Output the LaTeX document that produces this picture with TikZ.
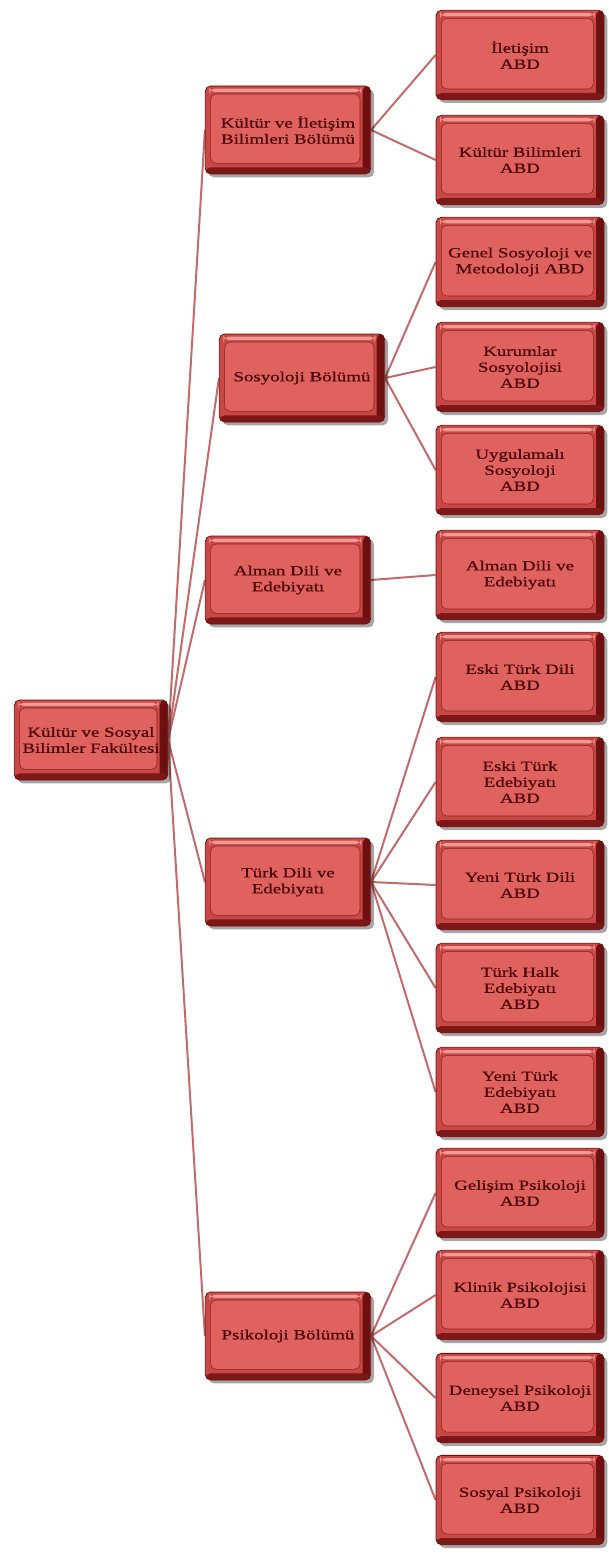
\documentclass[tikz,border=0pt]{standalone}
\usepackage{fontspec}
\newfontfamily\bxfont[FakeStretch=1.35,FakeBold=0.6]{Liberation Serif}
\usetikzlibrary{shadows,backgrounds}
\definecolor{bxdark}{HTML}{6E1010}
\definecolor{bxmid}{HTML}{C94846}
\definecolor{bxface}{HTML}{E0625F}
\definecolor{bxlight}{HTML}{F09A96}
\definecolor{bxtext}{HTML}{4A0505}
\definecolor{lnk}{HTML}{C46A6A}
\tikzset{
  bx/.style={rectangle, rounded corners=4pt, minimum width=126pt, minimum height=67pt,
    inner sep=2pt, align=center, text=bxtext,
    font=\bxfont\fontsize{10.5}{12}\selectfont,
    fill=bxmid, draw=bxdark, line width=0.6pt,
    drop shadow={shadow xshift=2.5pt, shadow yshift=-2.5pt, opacity=0.35, fill=black},
    path picture={
      \fill[bxdark] ([shift={(-6pt,0pt)}]path picture bounding box.north east)
        rectangle (path picture bounding box.south east);
      \fill[bxdark!85!bxmid] ([shift={(0pt,5pt)}]path picture bounding box.south west)
        rectangle (path picture bounding box.south east);
      \fill[bxlight] ([shift={(3pt,-2pt)}]path picture bounding box.north west)
        rectangle ([shift={(-7pt,-4.5pt)}]path picture bounding box.north east);
      \fill[bxface, draw=bxdark!70!bxmid, line width=0.4pt]
        ([shift={(4pt,-6pt)}]path picture bounding box.north west)
        rectangle ([shift={(-8pt,8pt)}]path picture bounding box.south east);
    }},
  rootbx/.style={bx, minimum width=115pt, minimum height=60pt},
  lvl1/.style={bx, minimum width=124pt, minimum height=66pt},
  link/.style={draw=lnk, line width=1.5pt}
}
\begin{document}
\begin{tikzpicture}[x=0.75pt,y=-0.75pt]
\useasboundingbox (0,0) rectangle (608,1555);
\node[rootbx] (root) at (91,740) {Kültür ve Sosyal\\Bilimler Fakültesi};
\node[lvl1] (k1) at (288,130) {Kültür ve İletişim\\Bilimleri Bölümü};
\node[lvl1] (s1) at (302,378) {Sosyoloji Bölümü};
\node[lvl1] (a1) at (288,580) {Alman Dili ve\\Edebiyatı};
\node[lvl1] (t1) at (288,882) {Türk Dili ve\\Edebiyatı};
\node[lvl1] (p1) at (288,1336) {Psikoloji Bölümü};
\node[bx] (k2a) at (520,55) {İletişim\\ABD};
\node[bx] (k2b) at (520,160) {Kültür Bilimleri\\ABD};
\node[bx] (s2a) at (520,262) {Genel Sosyoloji ve\\Metodoloji ABD};
\node[bx] (s2b) at (520,367) {Kurumlar\\Sosyolojisi\\ABD};
\node[bx] (s2c) at (520,470) {Uygulamalı\\Sosyoloji\\ABD};
\node[bx] (a2a) at (520,575) {Alman Dili ve\\Edebiyatı};
\node[bx] (t2a) at (520,677) {Eski Türk Dili\\ABD};
\node[bx] (t2b) at (520,782) {Eski Türk\\Edebiyatı\\ABD};
\node[bx] (t2c) at (520,885) {Yeni Türk Dili\\ABD};
\node[bx] (t2d) at (520,988) {Türk Halk\\Edebiyatı\\ABD};
\node[bx] (t2e) at (520,1092) {Yeni Türk\\Edebiyatı\\ABD};
\node[bx] (p2a) at (520,1193) {Gelişim Psikoloji\\ABD};
\node[bx] (p2b) at (520,1295) {Klinik Psikolojisi\\ABD};
\node[bx] (p2c) at (520,1398) {Deneysel Psikoloji\\ABD};
\node[bx] (p2d) at (520,1500) {Sosyal Psikoloji\\ABD};
\begin{pgfonlayer}{background}
\foreach \c in {k1,s1,a1,t1,p1} \draw[link] (root.east) -- (\c.west);
\foreach \c in {k2a,k2b} \draw[link] (k1.east) -- (\c.west);
\foreach \c in {s2a,s2b,s2c} \draw[link] (s1.east) -- (\c.west);
\draw[link] (a1.east) -- (a2a.west);
\foreach \c in {t2a,t2b,t2c,t2d,t2e} \draw[link] (t1.east) -- (\c.west);
\foreach \c in {p2a,p2b,p2c,p2d} \draw[link] (p1.east) -- (\c.west);
\end{pgfonlayer}
\end{tikzpicture}
\end{document}
